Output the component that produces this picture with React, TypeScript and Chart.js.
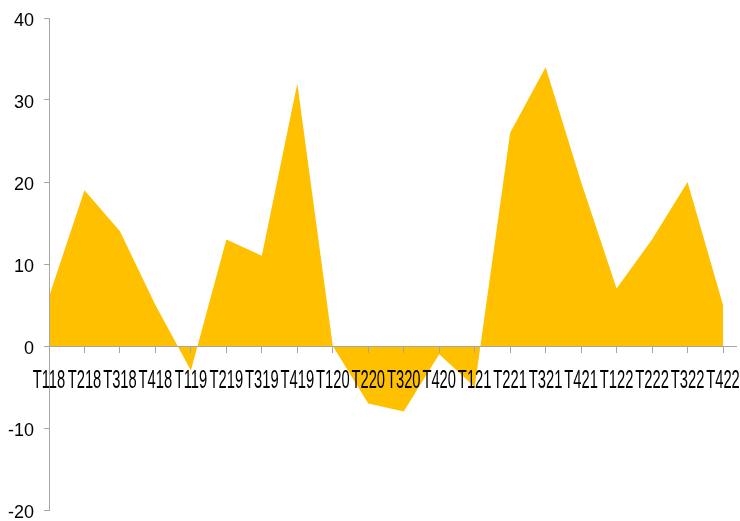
import React, { useEffect, useRef } from "react";
import { Chart, registerables } from "chart.js";

Chart.register(...registerables);

const categories = [
  "T118", "T218", "T318", "T418", "T119", "T219", "T319", "T419",
  "T120", "T220", "T320", "T420", "T121", "T221", "T321", "T421",
  "T122", "T222", "T322", "T422",
];
const values = [6, 19, 14, 5, -3, 13, 11, 32, 0, -7, -8, -1, -5, 26, 34, 20, 7, 13, 20, 5];
const yMin = -20;
const yMax = 40;
const yStep = 10;

const FONT = "'Liberation Sans', Arial, sans-serif";
const AXIS_COLOR = "#A6A6A6";

// Draws the category labels (condensed, like the reference) under the zero axis,
// and extends the zero axis line a little past the last category.
const categoryLabels = {
  id: "categoryLabels",
  afterDraw(chart: any) {
    const { ctx, chartArea, scales } = chart;
    const xs = scales.x;
    const y0 = Math.round(scales.y.getPixelForValue(0)) + 0.5;
    ctx.save();
    ctx.strokeStyle = AXIS_COLOR;
    ctx.lineWidth = 1;
    ctx.beginPath();
    ctx.moveTo(chartArea.right, y0);
    ctx.lineTo(737, y0);
    ctx.stroke();

    ctx.fillStyle = "#000000";
    ctx.font = `25px ${FONT}`;
    ctx.textAlign = "center";
    ctx.textBaseline = "alphabetic";
    const labels: string[] = chart.data.labels;
    labels.forEach((lab, i) => {
      const x = xs.getPixelForValue(i);
      ctx.save();
      ctx.translate(x, y0 + 41);
      ctx.scale(0.59, 1);
      ctx.fillText(lab, 0, 0);
      ctx.restore();
    });
    ctx.restore();
  },
};

export default function App() {
  const ref = useRef<HTMLCanvasElement | null>(null);

  useEffect(() => {
    if (!ref.current) return;
    const chart = new Chart(ref.current, {
      type: "line",
      data: {
        labels: categories,
        datasets: [
          {
            data: values,
            fill: "origin",
            backgroundColor: "#FFC000",
            borderWidth: 0,
            borderColor: "#FFC000",
            pointRadius: 0,
            tension: 0,
          },
        ],
      },
      options: {
        animation: false,
        responsive: false,
        maintainAspectRatio: false,
        layout: { padding: { left: 0, right: 17, top: 18, bottom: 11 } },
        plugins: {
          legend: { display: false },
          tooltip: { enabled: false },
        },
        scales: {
          x: {
            type: "category",
            position: { y: 0 } as any,
            offset: false,
            grid: {
              display: true,
              drawOnChartArea: false,
              drawTicks: true,
              tickLength: 6,
              color: AXIS_COLOR,
              z: 1,
            },
            border: { display: true, color: AXIS_COLOR, width: 1, z: 1 },
            ticks: { display: false },
            afterFit(scale: any) {
              scale.height = 0;
              scale.paddingLeft = 0;
              scale.paddingRight = 0;
            },
          },
          y: {
            min: yMin,
            max: yMax,
            grid: {
              display: true,
              drawOnChartArea: false,
              drawTicks: true,
              tickLength: 5,
              color: AXIS_COLOR,
              z: 1,
            },
            border: { display: true, color: AXIS_COLOR, width: 1, z: 1 },
            ticks: {
              stepSize: yStep,
              padding: 10,
              labelOffset: 3,
              color: "#000000",
              font: { family: FONT, size: 18 },
            },
            afterFit(scale: any) {
              scale.width = 49;
              scale.paddingTop = 0;
              scale.paddingBottom = 0;
            },
          },
        },
      },
      plugins: [categoryLabels],
    });
    return () => chart.destroy();
  }, []);

  return (
    <div
      style={{
        position: "absolute",
        left: 0,
        top: 0,
        width: 740,
        height: 521,
        overflow: "hidden",
        background: "#ffffff",
      }}
    >
      <canvas ref={ref} width={740} height={521} style={{ width: 740, height: 521, display: "block" }} />
    </div>
  );
}
